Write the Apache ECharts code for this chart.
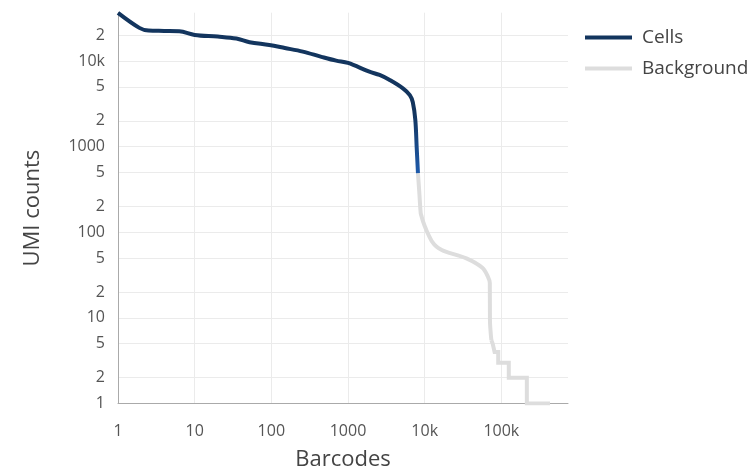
<!DOCTYPE html>
<html>
<head>
<meta charset="utf-8">
<script src="https://cdn.jsdelivr.net/npm/echarts@6/dist/echarts.min.js"></script>
<style>
html,body{margin:0;padding:0;background:#fff;}
#chart{width:755px;height:470px;}
</style>
</head>
<body>
<div id="chart"></div>
<script>
// ---- data ----
var cellsBarcodes = [1, 1.9, 2.5, 4, 6.3, 10, 20, 35, 52, 94, 150, 257, 450, 700, 1000, 1900, 2580, 3500, 5200, 6400, 7000, 7550, 7860, 8170];
var cellsUmis     = [36500, 24400, 22700, 22500, 22300, 20200, 19300, 18300, 16600, 15400, 14200, 12900, 11200, 10100, 9500, 7500, 6880, 6000, 4800, 4000, 3300, 2050, 990, 492];

var bgBarcodes = [8170, 8515, 8870, 9145, 9560, 10000, 10600, 11500, 12350, 14200, 16700, 19200, 35000, 57000, 66700, 70700, 71000, 74000];
var bgUmis     = [492, 288, 168, 151, 132, 118.5, 104, 89, 79, 68, 62, 59, 49.6, 38.3, 30.3, 25.6, 9.4, 5.5];

var bgStepBarcodes = [74000, 77000, 81600, 81600, 91000, 91000, 125000, 125000, 215000, 215000, 431000];
var bgStepUmis     = [5.5, 5, 5, 4, 4, 3, 3, 2, 2, 1, 1];

var yTickValues = [1, 2, 5, 10, 20, 50, 100, 200, 500, 1000, 2000, 5000, 10000, 20000];
var yTickLabels = ['1', '2', '5', '10', '2', '5', '100', '2', '5', '1000', '2', '5', '10k', '2'];
var xTickValues = [1, 10, 100, 1000, 10000, 100000];
var xTickLabels = ['1', '10', '100', '1000', '10k', '100k'];

function zip(a, b) { return a.map(function (v, i) { return [v, b[i]]; }); }
function lookup(vals, labels, v) {
  var best = 0, bd = Infinity;
  for (var i = 0; i < vals.length; i++) {
    var d = Math.abs(Math.log(vals[i]) - Math.log(v));
    if (d < bd) { bd = d; best = i; }
  }
  return labels[best];
}

var NAVY = '#13355e';
var GRAY = '#dddddd';
var FONT = 'Open Sans';

var chart = echarts.init(document.getElementById('chart'), null, {renderer: 'canvas'});
chart.setOption({
  animation: false,
  backgroundColor: '#ffffff',
  textStyle: {fontFamily: FONT},
  grid: {left: 118, right: 187, top: 12.7, bottom: 66.5, containLabel: false, outerBoundsMode: 'none'},
  legend: {
    orient: 'vertical',
    left: 585,
    top: 27.5,
    padding: 0,
    itemWidth: 47,
    itemHeight: 4,
    itemGap: 11,
    icon: 'rect',
    textStyle: {fontFamily: FONT, fontSize: 19, lineHeight: 20, color: '#444', padding: [0, 0, 0, 5]},
    data: [
      {name: 'Cells', itemStyle: {color: NAVY}},
      {name: 'Background', itemStyle: {color: GRAY}}
    ]
  },
  xAxis: {
    type: 'log',
    logBase: 10,
    min: 1,
    max: 740000,
    name: 'Barcodes',
    nameLocation: 'middle',
    nameGap: 45,
    nameTextStyle: {fontFamily: FONT, fontSize: 22, color: '#444'},
    axisLine: {show: true, onZero: false, lineStyle: {color: '#aaaaaa', width: 1}},
    axisTick: {show: false, customValues: xTickValues},
    axisLabel: {
      customValues: xTickValues,
      margin: 20,
      fontFamily: FONT, fontSize: 16, color: '#555555',
      formatter: function (v) { return lookup(xTickValues, xTickLabels, v); }
    },
    splitLine: {show: true, lineStyle: {color: '#ebebeb', width: 1}}
  },
  yAxis: {
    type: 'log',
    logBase: 10,
    min: 1,
    max: 36700,
    name: 'UMI counts',
    nameLocation: 'middle',
    nameGap: 74,
    nameTextStyle: {fontFamily: FONT, fontSize: 22, color: '#444'},
    axisLine: {show: true, onZero: false, lineStyle: {color: '#aaaaaa', width: 1}},
    axisTick: {show: false, customValues: yTickValues},
    axisLabel: {
      customValues: yTickValues,
      margin: 13,
      fontFamily: FONT, fontSize: 16, color: '#555555',
      formatter: function (v) { return lookup(yTickValues, yTickLabels, v); }
    },
    splitLine: {show: true, lineStyle: {color: '#ebebeb', width: 1}}
  },
  series: [
    {
      name: 'Background',
      type: 'line',
      data: zip(bgBarcodes, bgUmis),
      showSymbol: false,
      symbol: 'none',
      smooth: 0.3,
      lineStyle: {color: GRAY, width: 4},
      itemStyle: {color: GRAY},
      z: 2
    },
    {
      name: 'Background',
      type: 'line',
      data: zip(bgStepBarcodes, bgStepUmis),
      showSymbol: false,
      symbol: 'none',
      smooth: false,
      lineStyle: {color: GRAY, width: 4, join: 'miter'},
      itemStyle: {color: GRAY},
      z: 2
    },
    {
      name: 'Cells',
      type: 'line',
      data: zip(cellsBarcodes, cellsUmis),
      showSymbol: false,
      symbol: 'none',
      smooth: 0.35,
      lineStyle: {
        width: 4,
        color: new echarts.graphic.LinearGradient(0, 0, 0, 1, [
          {offset: 0, color: NAVY},
          {offset: 0.62, color: NAVY},
          {offset: 1, color: '#1e5cae'}
        ])
      },
      itemStyle: {color: NAVY},
      z: 3
    }
  ]
});
</script>
</body>
</html>
